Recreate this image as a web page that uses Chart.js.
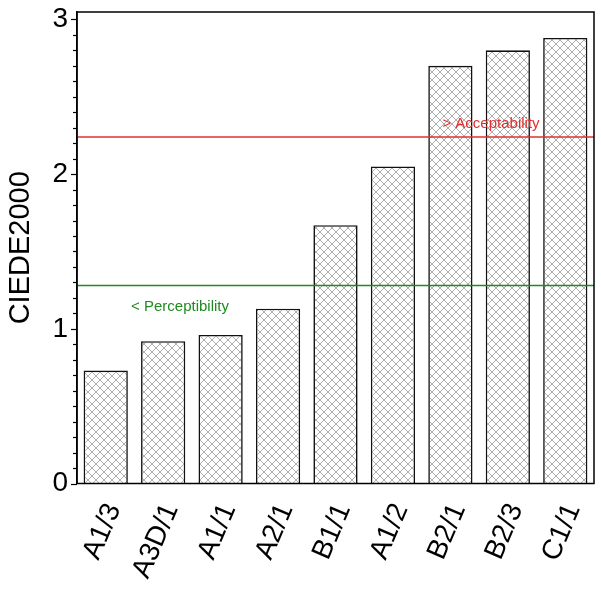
<!DOCTYPE html>
<html>
<head>
<meta charset="utf-8">
<script src="https://cdn.jsdelivr.net/npm/chart.js@4/dist/chart.umd.min.js"></script>
<style>
html,body{margin:0;padding:0;background:#fff;}
#wrap{width:601px;height:591px;position:relative;}
</style>
</head>
<body>
<div id="wrap"><canvas id="c" width="601" height="591"></canvas></div>
<script>
const categories = ["A1/3","A3D/1","A1/1","A2/1","B1/1","A1/2","B2/1","B2/3","C1/1"];
const ciede2000 = [0.73,0.92,0.96,1.13,1.67,2.05,2.70,2.80,2.88];
const yTickValues = [0,0.1,0.2,0.3,0.4,0.5,0.6,0.7,0.8,0.9,1,1.1,1.2,1.3,1.4,1.5,1.6,1.7,1.8,1.9,2,2.1,2.2,2.3,2.4,2.5,2.6,2.7,2.8,2.9,3];
const yMajorLabels = [0,1,2,3];
const perceptibility = 1.28;
const acceptability = 2.24;
const perceptLabel = "< Perceptibility";
const acceptLabel = "> Acceptability";
const yTitle = "CIEDE2000";

// hatch pattern
const pc = document.createElement('canvas');
pc.width = 8; pc.height = 8;
const px = pc.getContext('2d');
px.fillStyle = '#fff'; px.fillRect(0,0,8,8);
px.strokeStyle = '#a5a5a5'; px.lineWidth = 0.9;
px.beginPath();
px.moveTo(0,0); px.lineTo(8,8);
px.moveTo(0,8); px.lineTo(8,0);
px.stroke();
const hatch = document.getElementById('c').getContext('2d').createPattern(pc,'repeat');

const FONT = "'Liberation Sans', Arial, sans-serif";

const decor = {
  id: 'decor',
  afterDatasetsDraw(chart) {
    const {ctx, chartArea: a, scales: {y}} = chart;
    ctx.save();
    const lines = [
      {v: acceptability, c: '#e0302f', t: acceptLabel, tx: 491, dy: -13},
      {v: perceptibility, c: '#1f8a1f', t: perceptLabel, tx: 180, dy: 21}
    ];
    for (const L of lines) {
      const yy = y.getPixelForValue(L.v);
      ctx.strokeStyle = L.c; ctx.lineWidth = 1.5;
      ctx.beginPath(); ctx.moveTo(a.left, yy); ctx.lineTo(a.right, yy); ctx.stroke();
      ctx.fillStyle = L.c;
      ctx.font = "15px " + FONT;
      ctx.textAlign = 'center'; ctx.textBaseline = 'middle';
      ctx.fillText(L.t, L.tx, yy + L.dy);
    }
    ctx.strokeStyle = '#000'; ctx.lineWidth = 1.5;
    ctx.strokeRect(a.left, a.top, a.right - a.left, a.bottom - a.top);
    ctx.lineWidth = 1.2;
    for (const t of y.ticks) {
      const yy = Math.round(y.getPixelForValue(t.value)) + 0.5;
      const major = yMajorLabels.some(m => Math.abs(m - t.value) < 1e-6);
      ctx.beginPath();
      ctx.moveTo(a.left - (major ? 6 : 4), yy);
      ctx.lineTo(a.left, yy);
      ctx.stroke();
    }
    ctx.restore();
  }
};

new Chart(document.getElementById('c'), {
  type: 'bar',
  data: {
    labels: categories,
    datasets: [{
      data: ciede2000,
      backgroundColor: hatch,
      borderColor: '#111',
      borderWidth: 1.6,
      barPercentage: 0.77,
      categoryPercentage: 1.0
    }]
  },
  options: {
    responsive: false,
    animation: false,
    layout: {padding: {top: 12, right: 7, left: 0, bottom: 0}},
    plugins: {legend: {display: false}, tooltip: {enabled: false}},
    scales: {
      x: {
        grid: {display: false, drawTicks: false},
        border: {display: false},
        ticks: {
          color: '#000',
          font: {family: FONT, size: 28},
          minRotation: 67, maxRotation: 67,
          padding: 15,
          labelOffset: 8,
          autoSkip: false
        },
        afterFit(s) { s.height = 107.5; s.paddingLeft = 0; s.paddingRight = 0; }
      },
      y: {
        min: 0, max: 3.048,
        afterBuildTicks(s) { s.ticks = yTickValues.map(v => ({value: v})); },
        grid: {display: false, drawTicks: false},
        border: {display: true, color: '#000', width: 1.5},
        ticks: {
          color: '#000',
          font: {family: FONT, size: 28},
          padding: 9,
          autoSkip: false,
          callback(v) { return yMajorLabels.some(m => Math.abs(m - v) < 1e-6) ? String(Math.round(v)) : ''; }
        },
        title: {
          display: true, text: yTitle, color: '#000',
          font: {family: FONT, size: 29},
          padding: {top: 4, bottom: 0}
        },
        afterFit(s) { s.width = 77; s.paddingTop = 0; s.paddingBottom = 0; }
      }
    }
  },
  plugins: [decor]
});
</script>
</body>
</html>
